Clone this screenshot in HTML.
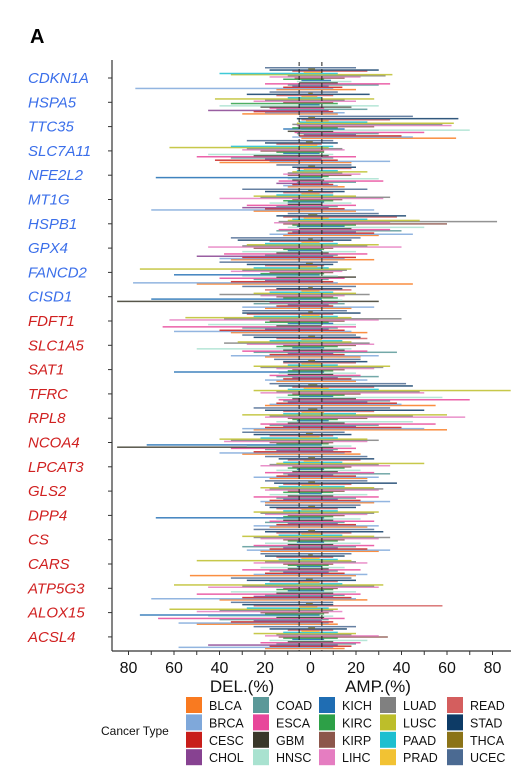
<!DOCTYPE html>
<html><head><meta charset="utf-8"><style>
body{margin:0;background:#fff;}
svg{display:block;font-family:"Liberation Sans",sans-serif;}
</style></head><body>
<svg id="chart" width="520" height="782">
<text x="30" y="43" font-size="20" font-weight="bold">A</text>
</svg>
<script>
const genes=["CDKN1A","HSPA5","TTC35","SLC7A11","NFE2L2","MT1G","HSPB1","GPX4","FANCD2","CISD1","FDFT1","SLC1A5","SAT1","TFRC","RPL8","NCOA4","LPCAT3","GLS2","DPP4","CS","CARS","ATP5G3","ALOX15","ACSL4"];
const cancers=["BLCA","BRCA","CESC","CHOL","COAD","ESCA","GBM","HNSC","KICH","KIRC","KIRP","LIHC","LUAD","LUSC","PAAD","PRAD","READ","STAD","THCA","UCEC"];
const colors=["#F97A20","#7FA8DA","#C81E1A","#874291","#5B9999","#E8479A","#3A382A","#A9E2D0","#1F6DB3","#2DA047","#8C564B","#E57DC1","#808080","#BDBE2A","#1DBFD0","#F2C233","#D45E5E","#0D3B66","#8B7318","#4B6A92"];
const delVals=[
[15,77,12,8,10,20,5,6,4,12,7,18,10,35,40,3,8,18,1,20],
[30,20,25,45,15,18,22,40,5,35,12,25,20,42,10,4,15,28,1,18],
[4,8,5,3,6,7,10,4,12,8,5,6,8,6,5,2,4,6,1,5],
[40,18,42,20,35,50,25,45,12,15,22,30,28,62,35,5,15,20,2,28],
[10,12,8,15,6,14,8,10,68,5,10,12,10,8,6,3,6,8,1,15],
[25,70,20,30,15,28,10,18,10,12,8,40,22,25,15,4,12,20,1,30],
[12,18,10,8,15,14,5,10,6,8,12,16,14,10,8,3,12,15,1,10],
[35,40,30,50,20,38,15,30,10,12,25,45,30,28,20,4,18,32,1,35],
[50,78,35,20,25,40,15,30,60,22,18,35,30,75,25,5,20,28,2,40],
[20,30,15,10,25,18,85,20,70,12,15,22,40,25,18,4,20,15,1,30],
[35,60,40,20,30,65,15,45,10,20,18,62,38,55,25,4,28,30,1,30],
[20,35,18,10,25,30,12,50,8,15,12,28,38,32,18,4,15,25,1,30],
[15,20,12,8,15,18,10,14,60,10,8,15,22,25,10,4,12,12,1,16],
[20,18,15,10,12,14,8,15,5,10,8,22,15,25,10,3,8,14,1,18],
[25,30,20,12,18,22,10,15,6,8,10,20,18,30,12,4,12,20,1,25],
[30,40,25,15,20,35,85,28,72,15,18,38,35,40,22,5,18,25,2,30],
[18,25,15,10,12,20,8,15,6,10,8,22,18,15,12,3,10,14,1,20],
[20,22,18,12,15,25,10,18,5,12,10,20,18,22,14,4,12,16,1,20],
[18,25,15,10,20,18,12,15,68,12,10,20,22,25,12,4,15,18,1,20],
[22,28,18,12,30,25,10,20,6,10,12,22,25,30,14,4,15,20,1,25],
[53,25,20,12,18,30,10,22,6,10,12,25,20,50,14,4,15,20,1,22],
[40,70,30,25,20,50,15,35,10,15,12,45,30,60,20,5,18,28,2,35],
[50,58,35,25,40,67,15,45,75,20,22,50,40,62,28,5,25,30,2,35],
[20,58,18,45,15,22,10,18,8,12,14,20,15,25,12,4,10,18,1,25]];
const ampVals=[
[20,10,14,8,30,35,12,18,9,6,15,22,33,36,12,5,25,30,2,20],
[12,15,10,8,25,6,18,30,4,12,10,20,15,28,5,3,10,26,1,12],
[64,45,40,20,30,50,10,70,15,12,28,62,58,63,25,8,35,65,2,45],
[18,35,12,5,10,20,8,10,4,6,6,15,14,8,10,3,5,12,1,10],
[15,12,10,8,20,32,6,30,5,8,18,22,14,25,12,4,18,20,2,18],
[20,28,15,8,12,20,5,18,6,10,14,32,35,20,10,4,10,15,1,25],
[30,45,28,20,40,35,18,50,15,20,60,35,82,48,25,8,38,42,3,30],
[28,15,20,10,12,25,8,20,5,6,10,40,25,30,12,4,10,18,1,22],
[45,12,10,5,8,15,20,12,4,6,10,14,16,18,8,3,6,10,1,12],
[18,28,10,8,15,12,30,14,5,12,10,15,26,20,10,4,18,14,1,20],
[25,18,15,8,12,20,5,20,10,8,15,30,40,18,12,4,10,22,1,16],
[22,30,15,10,38,25,15,18,6,12,20,28,26,18,14,5,25,22,2,20],
[20,25,18,12,30,22,10,20,6,10,15,28,32,35,12,5,20,25,2,22],
[55,40,38,25,35,70,20,58,10,15,22,50,48,88,30,8,28,45,3,42],
[60,50,40,20,30,55,15,45,8,12,25,68,45,60,20,6,28,50,3,35],
[22,15,18,10,12,20,10,18,5,8,10,25,30,25,12,4,10,18,1,15],
[25,30,20,10,35,28,12,22,6,15,18,35,30,50,14,4,22,28,2,25],
[28,35,22,12,20,30,10,25,5,10,15,30,32,28,15,4,18,38,2,25],
[25,30,20,12,15,28,10,22,6,10,15,25,28,30,12,4,12,20,2,22],
[30,35,25,12,20,28,10,22,6,12,15,30,35,28,14,5,18,32,2,28],
[20,25,15,8,12,22,8,15,5,8,10,25,20,18,12,4,10,15,1,18],
[25,20,18,10,15,22,10,20,6,10,12,30,28,32,14,4,12,20,1,18],
[12,8,10,5,8,15,6,10,4,6,8,14,10,12,8,3,58,10,1,10],
[15,10,18,12,20,22,10,25,6,12,34,30,18,20,12,4,10,16,2,20]];
const xTicks=[-80,-70,-60,-50,-40,-30,-20,-10,0,10,20,30,40,50,60,70,80];
const xLabels=[-80,-60,-40,-20,0,20,40,60,80];

const NS="http://www.w3.org/2000/svg";
const svg=document.getElementById("chart");
function mk(tag,attrs,parent){const e=document.createElementNS(NS,tag);for(const k in attrs)e.setAttribute(k,attrs[k]);(parent||svg).appendChild(e);return e;}
const x=v=>310.5+v*2.275;
const yRow=i=>78+i*24.3;

const bars=mk("g",{});


genes.forEach((g,i)=>{
  for(let k=0;k<cancers.length;k++){
    const yy=yRow(i)-11+(19-k)*1.15;
    const r=mk("rect",{x:x(-delVals[i][k]),y:yy,width:x(ampVals[i][k])-x(-delVals[i][k]),height:1.5,fill:colors[k],opacity:0.85},bars);
    
    
  }
  const t=mk("text",{x:28,y:yRow(i)+5,"font-size":15,"font-style":"italic",fill:i<10?"#3B6FEA":"#D02020"});
  t.textContent=g;
  
  
  const tk=mk("line",{x1:108,x2:112,y1:yRow(i),y2:yRow(i),stroke:"#333","stroke-width":1});
  
  
});
[-5,5].forEach(v=>{
  const l=mk("line",{x1:x(v),x2:x(v),y1:62,y2:651,stroke:"#222","stroke-width":1,"stroke-dasharray":"4,3"});
  
  
});
const ya=mk("line",{x1:112,x2:112,y1:60,y2:651,stroke:"#333","stroke-width":1.2});


const xa=mk("line",{x1:112,x2:511,y1:651,y2:651,stroke:"#333","stroke-width":1.2});


xTicks.forEach(v=>{
  const l=mk("line",{x1:x(v),x2:x(v),y1:651,y2:655,stroke:"#333","stroke-width":1});
  
  
});
xLabels.forEach(v=>{
  const t=mk("text",{x:x(v),y:673,"font-size":16,"text-anchor":"middle",fill:"#111"});
  t.textContent=Math.abs(v);
  
  
});
const d1=mk("text",{x:242,y:692,"font-size":17,"text-anchor":"middle",fill:"#111"});d1.textContent="DEL.(%)";


const d2=mk("text",{x:378,y:692,"font-size":17,"text-anchor":"middle",fill:"#111"});d2.textContent="AMP.(%)";


const lt=mk("text",{x:101,y:735,"font-size":12,fill:"#111"});lt.textContent="Cancer Type";


const colX=[186,253,319,380,447];
cancers.forEach((c,k)=>{
  const col=Math.floor(k/4),row=k%4;
  const gx=colX[col],gy=697+row*17.4;
  const g=mk("g",{});
  
  
  mk("rect",{x:gx,y:gy,width:16,height:16,fill:colors[k]},g);
  const t=mk("text",{x:gx+23,y:gy+13,"font-size":12.5,fill:"#111"},g);t.textContent=c;
});
</script>
</body></html>
